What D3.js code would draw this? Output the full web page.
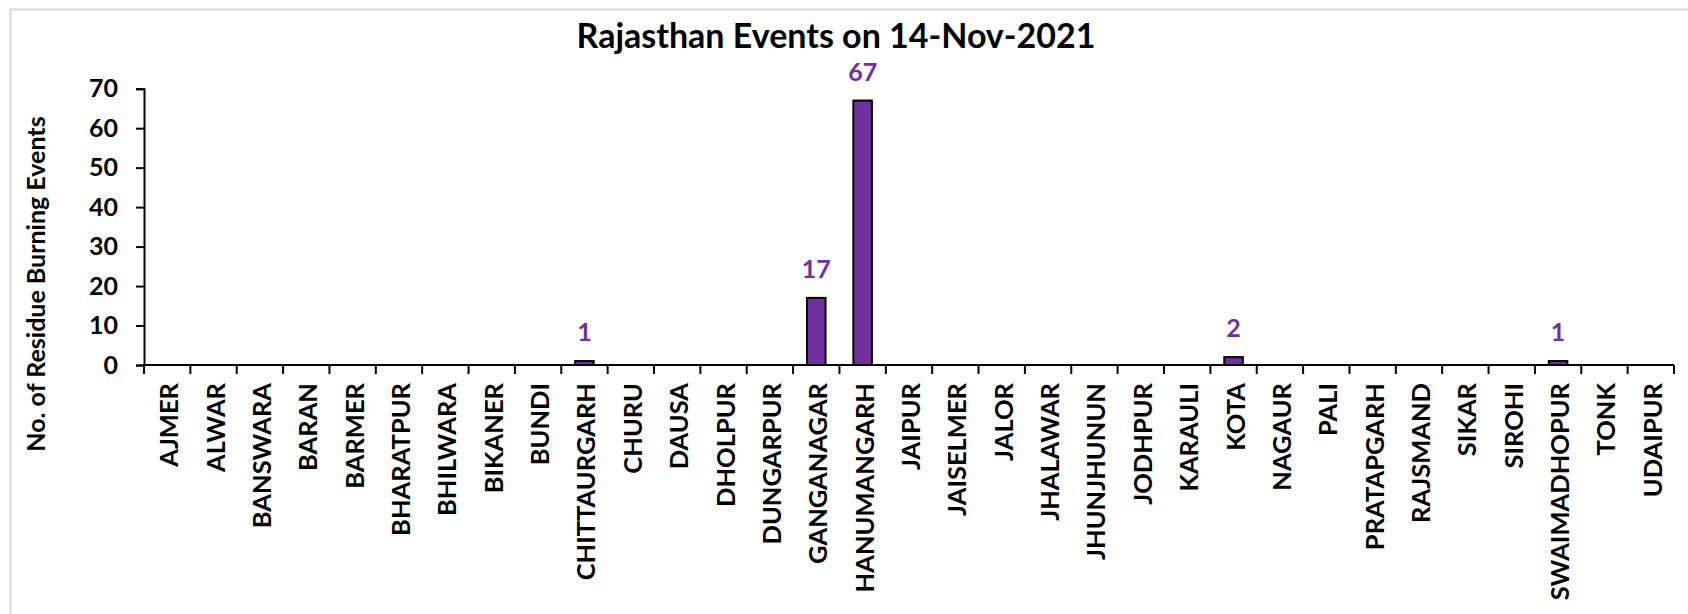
<!DOCTYPE html>
<html><head><meta charset="utf-8">
<script src="https://cdn.jsdelivr.net/npm/d3@7"></script>
<style>html,body{margin:0;padding:0;background:#fff;}svg{display:block;}</style>
</head><body>
<svg id="chart" width="1688" height="614"></svg>
<script>
const districts = ["AJMER","ALWAR","BANSWARA","BARAN","BARMER","BHARATPUR","BHILWARA","BIKANER","BUNDI","CHITTAURGARH","CHURU","DAUSA","DHOLPUR","DUNGARPUR","GANGANAGAR","HANUMANGARH","JAIPUR","JAISELMER","JALOR","JHALAWAR","JHUNJHUNUN","JODHPUR","KARAULI","KOTA","NAGAUR","PALI","PRATAPGARH","RAJSMAND","SIKAR","SIROHI","SWAIMADHOPUR","TONK","UDAIPUR"];
const events = [0,0,0,0,0,0,0,0,0,1,0,0,0,0,17,67,0,0,0,0,0,0,0,2,0,0,0,0,0,0,1,0,0];
const yTicks = [0,10,20,30,40,50,60,70];
const titleText = "Rajasthan Events on 14-Nov-2021";
const yTitle = "No. of Residue Burning Events";

const svg = d3.select("#chart");
const purple = "#7030A0";
const m = {left:144, right:1674, top:88.7, bottom:365};

// outer chart border
svg.append("rect").attr("x",10.5).attr("y",9.5).attr("width",1700).attr("height",700)
  .attr("fill","none").attr("stroke","#d9d9d9").attr("stroke-width",2);

const x = d3.scaleBand().domain(districts).range([m.left, m.right]).paddingInner(0.6).paddingOuter(0.3);
const xb = d3.scaleBand().domain(districts).range([m.left, m.right]);
const y = d3.scaleLinear().domain([0,70]).range([m.bottom, m.top]);

// title
svg.append("text").attr("x",836).attr("y",48).attr("text-anchor","middle")
  .attr("font-family","Lato").attr("font-weight",700).attr("font-size",34)
  .attr("fill","#000").text(titleText);

// y axis
const yAxis = svg.append("g").attr("transform",`translate(${m.left},0)`)
  .call(d3.axisLeft(y).tickValues(yTicks).tickSize(8).tickPadding(18));
yAxis.select(".domain").attr("stroke","#000").attr("stroke-width",2);
yAxis.selectAll(".tick line").attr("stroke","#000").attr("stroke-width",2);
yAxis.selectAll(".tick text").attr("font-family","Lato").attr("font-weight",700)
  .attr("font-size",25).attr("fill","#000");

// y title
svg.append("text").attr("transform",`translate(45,284) rotate(-90)`).attr("text-anchor","middle")
  .attr("font-family","Lato").attr("font-weight",700).attr("font-size",25)
  .attr("fill","#000").text(yTitle);

// bars
svg.append("g").selectAll("rect").data(districts).join("rect")
  .attr("x", d => x(d)).attr("width", x.bandwidth())
  .attr("y", (d,i) => y(events[i])).attr("height", (d,i) => y(0) - y(events[i]))
  .attr("fill", purple).attr("stroke","#000").attr("stroke-width",2);

// x axis with ticks between categories
const xg = svg.append("g").attr("transform",`translate(0,${m.bottom})`);
xg.append("line").attr("x1",m.left).attr("x2",m.right).attr("stroke","#000").attr("stroke-width",2);
const bounds = districts.map(d => xb(d)).concat([m.right]);
xg.selectAll("line.tk").data(bounds).join("line").attr("class","tk")
  .attr("x1",d=>d).attr("x2",d=>d).attr("y1",0).attr("y2",9)
  .attr("stroke","#000").attr("stroke-width",2);
xg.selectAll("text").data(districts).join("text")
  .attr("transform", d => `translate(${xb(d)+xb.bandwidth()/2 + 11},18) rotate(-90)`)
  .attr("text-anchor","end")
  .attr("font-family","Lato").attr("font-weight",700).attr("font-size",25.5)
  .attr("fill","#000").text(d => d);

// value labels
const labelled = districts.map((d,i)=>({d, v:events[i]})).filter(o => o.v > 0);
svg.append("g").selectAll("text").data(labelled).join("text")
  .attr("x", o => x(o.d) + x.bandwidth()/2).attr("y", o => y(o.v) - 20)
  .attr("text-anchor","middle").attr("font-family","Lato").attr("font-weight",700)
  .attr("font-size",25).attr("fill",purple).text(o => o.v);
</script>
</body></html>
